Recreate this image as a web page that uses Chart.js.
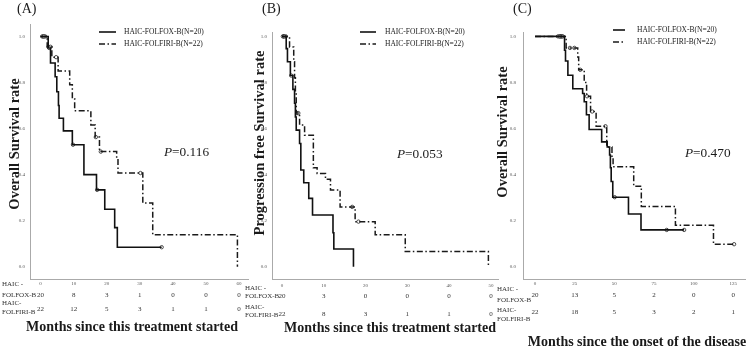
<!DOCTYPE html>
<html>
<head>
<meta charset="utf-8">
<script src="https://cdn.jsdelivr.net/npm/chart.js@4.4.0/dist/chart.umd.min.js"></script>
<style>
html,body{margin:0;padding:0;background:#fff;}
#wrap{position:relative;width:750px;height:349px;overflow:hidden;background:#fff;}
canvas{position:absolute;left:0;top:0;}
</style>
</head>
<body>
<div id="wrap">
<canvas id="cA" width="750" height="349"></canvas>
<canvas id="cB" width="750" height="349"></canvas>
<canvas id="cC" width="750" height="349"></canvas>
</div>
<script>
// ---------- shared labels ----------
const seriesNames = ['HAIC-FOLFOX-B(N=20)', 'HAIC-FOLFIRI-B(N=22)'];
const riskLabels = [['HAIC -', 'FOLFOX-B'], ['HAIC-', 'FOLFIRI-B']];
const yTicks = [0.0, 0.2, 0.4, 0.6, 0.8, 1.0];

// ---------- Panel A: overall survival, months since treatment start ----------
const xTicksA = [0, 10, 20, 30, 40, 50, 60];
const foxTimeA = [0, 2.3, 3.0, 4.4, 4.9, 5.4, 5.6, 6.9, 9.6, 13.1, 16.9, 19.4, 22.4, 23.2];
const foxSurvA = [1.0, 0.95, 0.885, 0.825, 0.76, 0.70, 0.645, 0.59, 0.53, 0.40, 0.334, 0.25, 0.17, 0.085];
const foxCensA = [0.5, 1.0, 2.6, 9.8, 17.1, 36.6];
const firiTimeA = [0, 2.0, 3.4, 5.3, 8.8, 9.6, 10.3, 15.2, 16.5, 17.8, 23.0, 23.4, 30.9, 33.9, 59.5];
const firiSurvA = [1.0, 0.955, 0.91, 0.85, 0.79, 0.73, 0.677, 0.615, 0.563, 0.50, 0.47, 0.407, 0.277, 0.139, 0.0];
const firiCensA = [0.8, 1.4, 2.4, 3.0, 4.7, 16.7, 18.2, 30.2];
const riskFoxA = [20, 8, 3, 1, 0, 0, 0];
const riskFiriA = [22, 12, 5, 3, 1, 1, 0];
const pValueA = '0.116';

// ---------- Panel B: progression free survival ----------
const xTicksB = [0, 10, 20, 30, 40, 50];
const foxTimeB = [0, 1.0, 1.3, 2.0, 2.6, 3.0, 3.2, 3.4, 4.2, 4.5, 5.2, 6.4, 7.3, 12.2, 12.4, 17.1];
const foxSurvB = [1.0, 0.947, 0.89, 0.83, 0.77, 0.71, 0.65, 0.593, 0.535, 0.42, 0.365, 0.297, 0.225, 0.148, 0.077, 0.0];
const foxCensB = [0.2, 0.5, 2.2];
const firiTimeB = [0, 1.8, 2.8, 3.0, 3.2, 3.4, 4.2, 5.4, 7.5, 8.4, 10.4, 11.6, 13.9, 17.5, 22.3, 29.5, 49.4];
const firiSurvB = [1.0, 0.954, 0.89, 0.82, 0.75, 0.667, 0.615, 0.571, 0.43, 0.405, 0.38, 0.333, 0.26, 0.196, 0.139, 0.066, 0.0];
const firiCensB = [0.4, 0.9, 3.6, 3.9, 16.8, 18.3];
const riskFoxB = [20, 3, 0, 0, 0, 0];
const riskFiriB = [22, 8, 3, 1, 1, 0];
const pValueB = '0.053';

// ---------- Panel C: overall survival, months since disease onset ----------
const xTicksC = [0, 25, 50, 75, 100, 125];
const foxTimeC = [0, 18.6, 19.2, 20.7, 23.8, 30.0, 31.0, 32.4, 34.1, 42.0, 45.5, 47.0, 47.5, 48.0, 49.0, 58.9, 66.8];
const foxSurvC = [1.0, 0.94, 0.893, 0.831, 0.773, 0.752, 0.716, 0.66, 0.596, 0.542, 0.52, 0.485, 0.43, 0.37, 0.302, 0.229, 0.16];
const foxCensC = [14.5, 15.5, 16.5, 17.5, 50.2, 83.0, 94.0];
const firiTimeC = [0, 19.6, 26.9, 27.5, 31.0, 32.5, 35.0, 38.5, 45.2, 48.5, 49.2, 62.2, 67.0, 88.5, 112.5];
const firiSurvC = [1.0, 0.95, 0.91, 0.855, 0.80, 0.74, 0.674, 0.61, 0.52, 0.48, 0.434, 0.35, 0.262, 0.18, 0.098];
const firiCensC = [15.8, 16.8, 22.0, 24.8, 28.5, 32.8, 36.0, 44.4, 125.5];
const riskFoxC = [20, 13, 5, 2, 0, 0];
const riskFiriC = [22, 18, 5, 3, 2, 1];
const pValueC = '0.470';

// ---------- helpers ----------
const SERIF = '"Liberation Serif", "Times New Roman", serif';
Chart.defaults.font.family = SERIF;

function stepAt(times, surv, t) {
  let v = surv[0];
  for (let i = 0; i < times.length; i++) if (times[i] <= t) v = surv[i];
  return v;
}
function curvePoints(times, surv, cens) {
  const pts = times.map((t, i) => ({x: t, y: surv[i]}));
  const lastC = Math.max(...cens);
  if (lastC > times[times.length - 1]) pts.push({x: lastC, y: surv[surv.length - 1]});
  return pts;
}
function censorPoints(times, surv, cens) {
  return cens.map(t => ({x: t, y: stepAt(times, surv, t)}));
}

const SOLID = {borderColor: '#111', borderWidth: 1.6, borderDash: []};
const DASHED = {borderColor: '#1a1a1a', borderWidth: 1.5, borderDash: [6, 2.5, 1.5, 2.5]};
const Y_AXIS_W = 30;

const annotPlugin = {
  id: 'annot',
  afterDraw(chart, args, o) {
    const ctx = chart.ctx, xs = chart.scales.x;
    ctx.save();
    ctx.textBaseline = 'middle';
    ctx.fillStyle = '#1a1a1a';
    // panel letter
    ctx.textAlign = 'left';
    ctx.font = '14px ' + SERIF;
    ctx.fillText(o.letter, o.letterPos[0], o.letterPos[1]);
    // p value
    ctx.font = 'italic 13.3px ' + SERIF;
    ctx.fillText('P', o.pPos[0], o.pPos[1]);
    const pw = ctx.measureText('P').width;
    ctx.font = '13.3px ' + SERIF;
    ctx.fillText('=' + o.pValue, o.pPos[0] + pw, o.pPos[1]);
    // legend
    ctx.font = '7.5px ' + SERIF;
    chart.data.datasets.slice(0, 2).forEach((ds, i) => {
      const y = o.legendY[i];
      ctx.save();
      ctx.strokeStyle = ds.borderColor;
      ctx.lineWidth = ds.borderWidth;
      ctx.setLineDash(ds.borderDash || []);
      ctx.beginPath();
      ctx.moveTo(o.legendLine[0], y);
      ctx.lineTo(o.legendLine[1], y);
      ctx.stroke();
      ctx.restore();
      ctx.fillText(ds.label, o.legendTextX, y);
    });
    // y title
    ctx.font = 'bold 14.5px ' + SERIF;
    ctx.textAlign = 'center';
    ctx.save();
    ctx.translate(o.yTitlePos[0], o.yTitlePos[1]);
    ctx.rotate(-Math.PI / 2);
    ctx.fillText(o.yTitle, 0, 0);
    ctx.restore();
    // x title
    ctx.font = 'bold 14px ' + SERIF;
    ctx.fillText(o.xTitle, o.xTitlePos[0], o.xTitlePos[1]);
    // number at risk table
    ctx.font = '7px ' + SERIF;
    ctx.fillStyle = '#333';
    o.risk.forEach((row, r) => {
      ctx.textAlign = 'left';
      row.label.forEach((line, k) => ctx.fillText(line, o.riskLabelX, o.riskLabelY[r][k]));
      ctx.textAlign = 'center';
      row.values.forEach((v, k) => ctx.fillText(String(v), xs.getPixelForValue(o.riskTimes[k]), o.riskY[r]));
    });
    ctx.restore();
  }
};

function makeChart(id, D, L) {
  const datasets = [
    Object.assign({label: seriesNames[0], data: curvePoints(D.foxT, D.foxS, D.foxC), stepped: true, fill: false, pointRadius: 0}, SOLID),
    Object.assign({label: seriesNames[1], data: curvePoints(D.firiT, D.firiS, D.firiC), stepped: true, fill: false, pointRadius: 0}, DASHED),
    {label: 'censored FOLFOX', data: censorPoints(D.foxT, D.foxS, D.foxC), showLine: false, pointRadius: 1.7, pointStyle: 'circle',
     pointBorderColor: '#222', pointBackgroundColor: '#fff', pointBorderWidth: 0.8},
    {label: 'censored FOLFIRI', data: censorPoints(D.firiT, D.firiS, D.firiC), showLine: false, pointRadius: 1.7, pointStyle: 'circle',
     pointBorderColor: '#222', pointBackgroundColor: '#fff', pointBorderWidth: 0.8}
  ];
  return new Chart(document.getElementById(id), {
    type: 'line',
    data: {datasets},
    options: {
      responsive: false, animation: false, devicePixelRatio: 1,
      layout: {padding: {left: L.area.left - Y_AXIS_W, top: L.area.top, right: 750 - L.area.right, bottom: 0}},
      scales: {
        x: {
          type: 'linear', min: L.xMin, max: L.xMax,
          afterBuildTicks: s => { s.ticks = D.xTicks.map(v => ({value: v})); },
          afterFit: s => { s.height = 349 - L.area.bottom; },
          grid: {display: false, drawTicks: false},
          border: {display: true, color: '#aaa', width: 1},
          ticks: {font: {size: 5, family: SERIF}, color: '#555', padding: L.xTickPad, maxRotation: 0, autoSkip: false,
                  callback: v => String(v)}
        },
        y: {
          type: 'linear', min: L.yMin, max: L.yMax,
          afterBuildTicks: s => { s.ticks = yTicks.map(v => ({value: v})); },
          afterFit: s => { s.width = Y_AXIS_W; },
          grid: {display: false, drawTicks: false},
          border: {display: true, color: '#aaa', width: 1},
          ticks: {font: {size: 5, family: SERIF}, color: '#555', padding: L.yTickPad, autoSkip: false,
                  callback: v => Number(v).toFixed(1)}
        }
      },
      plugins: {
        legend: {display: false},
        tooltip: {enabled: false},
        annot: {
          letter: L.letter, letterPos: L.letterPos,
          pValue: D.pValue, pPos: L.pPos,
          legendY: L.legendY, legendLine: L.legendLine, legendTextX: L.legendTextX,
          yTitle: L.yTitle, yTitlePos: L.yTitlePos,
          xTitle: L.xTitle, xTitlePos: L.xTitlePos,
          riskTimes: D.xTicks,
          risk: [{label: riskLabels[0], values: D.riskFox}, {label: riskLabels[1], values: D.riskFiri}],
          riskLabelX: L.riskLabelX, riskLabelY: L.riskLabelY, riskY: L.riskY
        }
      }
    },
    plugins: [annotPlugin]
  });
}

makeChart('cA',
  {xTicks: xTicksA, foxT: foxTimeA, foxS: foxSurvA, foxC: foxCensA, firiT: firiTimeA, firiS: firiSurvA, firiC: firiCensA,
   riskFox: riskFoxA, riskFiri: riskFiriA, pValue: pValueA},
  {area: {left: 30, right: 248, top: 24, bottom: 279}, xMin: -3.2, xMax: 62.7, yMin: -0.053, yMax: 1.054,
   xTickPad: 2, yTickPad: 5,
   letter: '(A)', letterPos: [17, 9], pPos: [164, 153],
   legendY: [32, 44], legendLine: [99, 116], legendTextX: 124,
   yTitle: 'Overall Survival rate', yTitlePos: [15, 144],
   xTitle: 'Months since this treatment started', xTitlePos: [132, 327],
   riskLabelX: 2, riskLabelY: [[284, 295], [303.5, 312]], riskY: [295, 309]});

makeChart('cB',
  {xTicks: xTicksB, foxT: foxTimeB, foxS: foxSurvB, foxC: foxCensB, firiT: firiTimeB, firiS: firiSurvB, firiC: firiCensB,
   riskFox: riskFoxB, riskFiri: riskFiriB, pValue: pValueB},
  {area: {left: 272, right: 498, top: 32, bottom: 279}, xMin: -2.4, xMax: 51.7, yMin: -0.053, yMax: 1.019,
   xTickPad: 4, yTickPad: 5,
   letter: '(B)', letterPos: [262, 9], pPos: [397, 155],
   legendY: [32, 44], legendLine: [360, 376], legendTextX: 385,
   yTitle: 'Progression free Survival rate', yTitlePos: [260, 143],
   xTitle: 'Months since this treatment started', xTitlePos: [390, 328],
   riskLabelX: 245, riskLabelY: [[288, 296], [307.5, 315]], riskY: [296, 314]});

makeChart('cC',
  {xTicks: xTicksC, foxT: foxTimeC, foxS: foxSurvC, foxC: foxCensC, firiT: firiTimeC, firiS: firiSurvC, firiC: firiCensC,
   riskFox: riskFoxC, riskFiri: riskFiriC, pValue: pValueC},
  {area: {left: 523, right: 749, top: 32, bottom: 279}, xMin: -7.6, xMax: 132.5, yMin: -0.053, yMax: 1.019,
   xTickPad: 2, yTickPad: 7,
   letter: '(C)', letterPos: [513, 9], pPos: [685, 154],
   legendY: [30, 42], legendLine: [613, 625], legendTextX: 637,
   yTitle: 'Overall Survival rate', yTitlePos: [503, 132],
   xTitle: 'Months since the onset of the disease', xTitlePos: [637, 342],
   riskLabelX: 497, riskLabelY: [[289, 300], [310, 319]], riskY: [295, 312]});
</script>
</body>
</html>
